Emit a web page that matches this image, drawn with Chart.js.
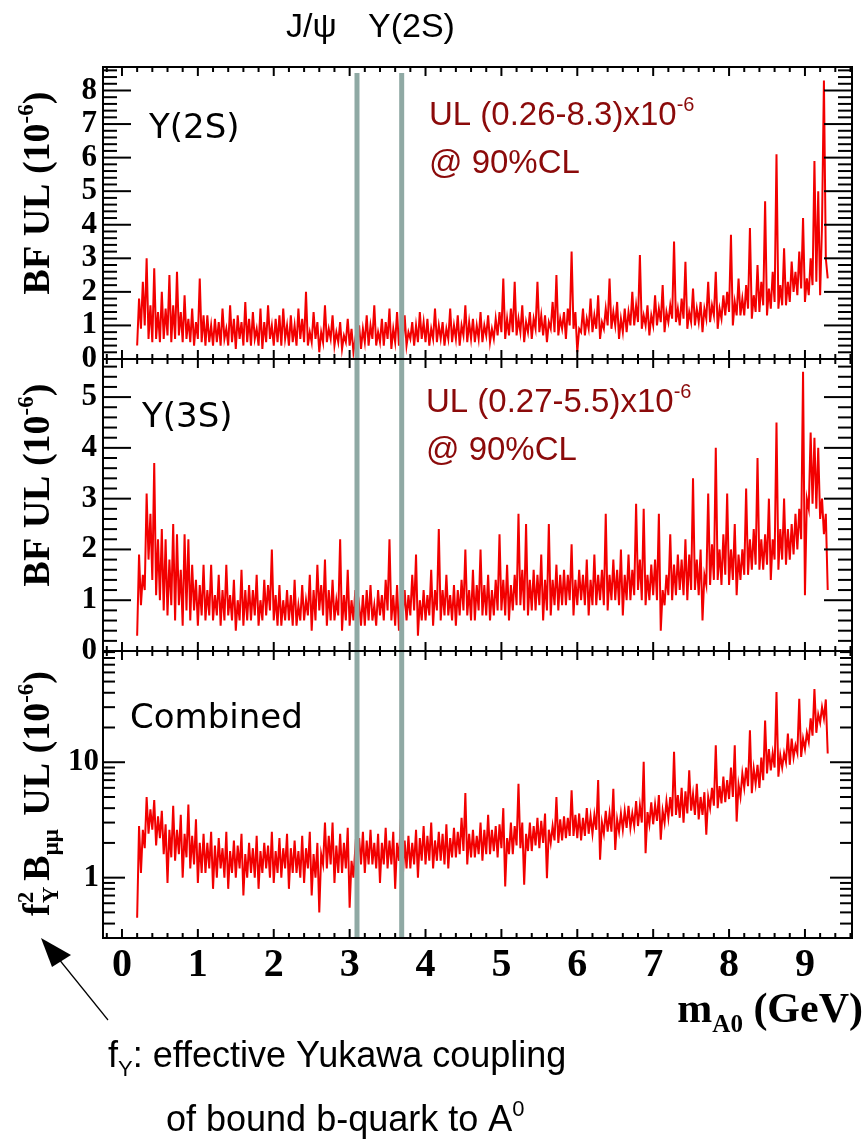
<!DOCTYPE html>
<html>
<head>
<meta charset="utf-8">
<script src="https://cdn.jsdelivr.net/npm/chart.js@4.4.1/dist/chart.umd.min.js"></script>
<style>
  html, body { margin: 0; padding: 0; background: #fff; }
  #wrap { position: relative; width: 866px; height: 1140px; }
</style>
</head>
<body>
<div id="wrap"><canvas id="myChart" width="866" height="1140"></canvas></div>
<script>
// A0 mass scan points (GeV)
const mass = [
  0.200, 0.225, 0.250, 0.275, 0.300, 0.325, 0.350, 0.375, 0.400, 0.425, 0.450, 0.475, 0.500, 0.525, 0.550, 0.575, 0.600, 0.625, 0.650, 0.675,
  0.700, 0.725, 0.750, 0.775, 0.800, 0.825, 0.850, 0.875, 0.900, 0.925, 0.950, 0.975, 1.000, 1.025, 1.050, 1.075, 1.100, 1.125, 1.150, 1.175,
  1.200, 1.225, 1.250, 1.275, 1.300, 1.325, 1.350, 1.375, 1.400, 1.425, 1.450, 1.475, 1.500, 1.525, 1.550, 1.575, 1.600, 1.625, 1.650, 1.675,
  1.700, 1.725, 1.750, 1.775, 1.800, 1.825, 1.850, 1.875, 1.900, 1.925, 1.950, 1.975, 2.000, 2.025, 2.050, 2.075, 2.100, 2.125, 2.150, 2.175,
  2.200, 2.225, 2.250, 2.275, 2.300, 2.325, 2.350, 2.375, 2.400, 2.425, 2.450, 2.475, 2.500, 2.525, 2.550, 2.575, 2.600, 2.625, 2.650, 2.675,
  2.700, 2.725, 2.750, 2.775, 2.800, 2.825, 2.850, 2.875, 2.900, 2.925, 2.950, 2.975, 3.000, 3.025, 3.050, 3.075, 3.100, 3.125, 3.150, 3.175,
  3.200, 3.225, 3.250, 3.275, 3.300, 3.325, 3.350, 3.375, 3.400, 3.425, 3.450, 3.475, 3.500, 3.525, 3.550, 3.575, 3.600, 3.625, 3.650, 3.675,
  3.700, 3.725, 3.750, 3.775, 3.800, 3.825, 3.850, 3.875, 3.900, 3.925, 3.950, 3.975, 4.000, 4.025, 4.050, 4.075, 4.100, 4.125, 4.150, 4.175,
  4.200, 4.225, 4.250, 4.275, 4.300, 4.325, 4.350, 4.375, 4.400, 4.425, 4.450, 4.475, 4.500, 4.525, 4.550, 4.575, 4.600, 4.625, 4.650, 4.675,
  4.700, 4.725, 4.750, 4.775, 4.800, 4.825, 4.850, 4.875, 4.900, 4.925, 4.950, 4.975, 5.000, 5.025, 5.050, 5.075, 5.100, 5.125, 5.150, 5.175,
  5.200, 5.225, 5.250, 5.275, 5.300, 5.325, 5.350, 5.375, 5.400, 5.425, 5.450, 5.475, 5.500, 5.525, 5.550, 5.575, 5.600, 5.625, 5.650, 5.675,
  5.700, 5.725, 5.750, 5.775, 5.800, 5.825, 5.850, 5.875, 5.900, 5.925, 5.950, 5.975, 6.000, 6.025, 6.050, 6.075, 6.100, 6.125, 6.150, 6.175,
  6.200, 6.225, 6.250, 6.275, 6.300, 6.325, 6.350, 6.375, 6.400, 6.425, 6.450, 6.475, 6.500, 6.525, 6.550, 6.575, 6.600, 6.625, 6.650, 6.675,
  6.700, 6.725, 6.750, 6.775, 6.800, 6.825, 6.850, 6.875, 6.900, 6.925, 6.950, 6.975, 7.000, 7.025, 7.050, 7.075, 7.100, 7.125, 7.150, 7.175,
  7.200, 7.225, 7.250, 7.275, 7.300, 7.325, 7.350, 7.375, 7.400, 7.425, 7.450, 7.475, 7.500, 7.525, 7.550, 7.575, 7.600, 7.625, 7.650, 7.675,
  7.700, 7.725, 7.750, 7.775, 7.800, 7.825, 7.850, 7.875, 7.900, 7.925, 7.950, 7.975, 8.000, 8.025, 8.050, 8.075, 8.100, 8.125, 8.150, 8.175,
  8.200, 8.225, 8.250, 8.275, 8.300, 8.325, 8.350, 8.375, 8.400, 8.425, 8.450, 8.475, 8.500, 8.525, 8.550, 8.575, 8.600, 8.625, 8.650, 8.675,
  8.700, 8.725, 8.750, 8.775, 8.800, 8.825, 8.850, 8.875, 8.900, 8.925, 8.950, 8.975, 9.000, 9.025, 9.050, 9.075, 9.100, 9.125, 9.150, 9.175,
  9.200, 9.225, 9.250, 9.275, 9.300
];

// BF upper limits @90% CL, units of 1e-6
const ulY2S = [
  0.4, 1.8, 0.9, 2.3, 1.0, 3.0, 0.6, 1.6, 0.5, 2.7, 0.6, 1.4, 0.5, 2.0, 0.6, 1.5, 0.7, 2.5, 0.5, 1.6,
  0.6, 2.6, 0.7, 1.4, 0.5, 1.9, 0.6, 1.2, 0.5, 1.5, 0.4, 1.1, 0.6, 2.4, 0.5, 1.3, 0.4, 1.3, 0.5, 1.0,
  0.4, 1.2, 0.5, 1.1, 0.4, 1.5, 0.6, 0.9, 0.4, 1.6, 0.5, 1.2, 0.3, 1.3, 0.6, 1.1, 0.4, 1.7, 0.5, 1.2,
  0.4, 1.4, 0.6, 0.9, 0.4, 1.5, 0.3, 1.1, 0.5, 1.6, 0.6, 1.0, 0.4, 1.2, 0.5, 1.3, 0.4, 1.5, 0.6, 1.0,
  0.4, 1.3, 0.5, 1.0, 0.4, 1.5, 0.6, 1.2, 0.5, 2.0, 0.4, 0.8, 0.5, 1.4, 0.6, 1.1, 0.2, 0.8, 0.5, 1.6,
  0.5, 0.9, 0.6, 1.3, 0.4, 0.8, 0.5, 1.1, 0.3, 0.7, 0.5, 1.2, 0.4, 0.9, 0.2, 0.6, 0.4, 1.0, 0.3, 0.9,
  0.5, 1.3, 0.4, 1.0, 0.6, 1.6, 0.4, 0.8, 0.5, 1.2, 0.4, 1.1, 0.6, 1.5, 0.3, 0.9, 0.5, 1.4, 0.4, 1.0,
  0.5, 1.3, 0.4, 0.8, 0.6, 1.1, 0.4, 1.0, 0.5, 1.4, 0.6, 1.1, 0.5, 1.2, 0.4, 0.9, 0.6, 1.5, 0.5, 1.0,
  0.6, 1.1, 0.4, 0.9, 0.6, 1.5, 0.5, 1.0, 0.6, 1.3, 0.4, 1.0, 0.7, 1.6, 0.5, 1.1, 0.6, 1.2, 0.5, 1.0,
  0.6, 1.4, 0.5, 1.0, 0.7, 1.3, 0.5, 0.9, 0.6, 1.2, 0.7, 1.4, 0.8, 2.4, 0.6, 1.2, 0.7, 1.5, 0.8, 2.3,
  0.7, 1.2, 0.8, 1.6, 0.5, 1.1, 0.8, 1.4, 0.6, 1.2, 0.9, 2.3, 0.8, 1.3, 0.7, 1.3, 0.5, 1.1, 0.9, 1.7,
  0.8, 2.5, 0.7, 1.2, 0.9, 1.4, 0.6, 1.5, 1.0, 3.2, 0.9, 1.4, 0.2, 0.9, 0.8, 1.5, 0.7, 1.2, 0.9, 1.8,
  0.8, 1.3, 0.9, 1.9, 0.6, 1.1, 0.9, 1.5, 1.0, 2.4, 0.9, 1.4, 1.0, 1.7, 0.6, 1.2, 0.8, 1.5, 0.8, 1.4,
  1.0, 2.0, 1.0, 1.6, 1.1, 3.1, 0.9, 1.3, 1.0, 1.6, 0.7, 1.3, 1.0, 1.9, 1.0, 1.5, 1.1, 2.2, 0.8, 1.4,
  1.1, 1.6, 1.2, 3.5, 1.1, 1.5, 1.0, 1.8, 1.2, 2.9, 0.9, 1.4, 1.1, 2.1, 1.0, 1.5, 1.1, 1.7, 0.8, 1.5,
  1.2, 2.3, 1.1, 1.6, 1.3, 2.6, 0.9, 1.5, 1.2, 1.9, 1.3, 2.0, 1.4, 3.7, 1.0, 1.7, 1.3, 2.4, 1.3, 1.8,
  1.3, 2.2, 1.5, 3.9, 1.2, 1.9, 1.4, 2.8, 1.4, 2.3, 1.6, 4.7, 1.3, 2.1, 1.5, 2.6, 1.7, 6.1, 1.5, 2.2,
  1.6, 3.3, 1.6, 2.3, 1.7, 2.9, 2.0, 2.6, 1.9, 3.2, 2.1, 4.2, 1.7, 2.4, 1.9, 3.0, 2.2, 5.9, 2.3, 5.0,
  1.9, 4.0, 8.3, 3.0, 2.4
];

const ulY3S = [
  0.3, 1.9, 0.9, 1.5, 1.2, 3.1, 1.8, 2.7, 1.4, 3.7, 1.1, 2.2, 1.0, 2.4, 0.8, 2.2, 0.7, 1.8, 0.9, 2.5,
  0.6, 2.3, 0.9, 1.6, 0.5, 2.3, 0.8, 2.2, 0.6, 1.7, 0.8, 1.4, 0.5, 1.3, 0.7, 1.7, 0.6, 1.2, 0.7, 1.7,
  0.6, 1.1, 0.7, 1.5, 0.5, 1.2, 0.6, 1.7, 0.7, 1.1, 0.6, 1.4, 0.4, 1.0, 0.6, 1.6, 0.5, 1.2, 0.6, 1.3,
  0.6, 1.2, 0.7, 1.5, 0.5, 1.0, 0.6, 1.4, 0.7, 1.3, 0.8, 2.0, 0.6, 1.1, 0.5, 1.3, 0.5, 1.0, 0.6, 1.2,
  0.6, 1.1, 0.5, 1.4, 0.5, 0.9, 0.6, 1.3, 0.6, 1.0, 0.7, 1.5, 0.4, 1.2, 0.6, 1.7, 0.8, 1.3, 0.7, 1.8,
  0.5, 1.2, 0.6, 1.4, 0.6, 1.0, 0.7, 2.2, 0.4, 1.1, 0.6, 1.6, 0.5, 1.0, 0.6, 1.2, 0.6, 0.9, 0.5, 1.1,
  0.5, 1.2, 0.6, 1.3, 0.6, 0.9, 0.5, 1.2, 0.7, 1.1, 0.6, 1.4, 0.8, 2.2, 0.6, 1.1, 0.5, 1.3, 0.4, 1.0,
  0.7, 1.2, 0.6, 1.1, 0.7, 1.5, 0.8, 1.9, 0.3, 1.0, 0.6, 1.2, 0.6, 1.1, 0.7, 1.6, 0.5, 1.2, 0.8, 2.4,
  0.6, 1.2, 0.7, 1.5, 0.7, 1.1, 0.6, 1.3, 0.5, 1.2, 0.7, 1.4, 0.8, 2.0, 0.7, 1.2, 0.6, 1.6, 0.6, 1.3,
  0.8, 2.0, 0.7, 1.3, 0.7, 1.5, 0.6, 1.2, 0.7, 1.4, 0.8, 2.3, 0.8, 1.4, 0.7, 1.7, 0.6, 1.3, 0.8, 1.5,
  0.9, 2.7, 0.9, 1.6, 0.8, 2.5, 0.7, 1.4, 0.8, 1.6, 0.8, 1.5, 0.9, 1.9, 0.6, 1.4, 0.8, 2.5, 0.7, 1.4,
  0.9, 1.7, 0.8, 1.5, 0.9, 1.6, 0.9, 1.5, 1.0, 2.1, 0.7, 1.4, 0.9, 1.6, 1.0, 1.5, 0.9, 1.8, 0.7, 1.4,
  0.9, 1.9, 0.9, 1.5, 1.0, 1.6, 0.9, 2.7, 0.8, 1.5, 1.0, 1.8, 1.0, 1.6, 0.9, 2.0, 0.7, 1.5, 1.0, 1.9,
  1.0, 1.6, 1.1, 2.9, 1.2, 1.8, 1.0, 2.8, 0.9, 1.5, 1.0, 1.7, 1.1, 1.8, 1.0, 2.7, 0.4, 1.2, 0.9, 1.5,
  1.1, 2.3, 1.0, 1.7, 1.1, 1.9, 1.2, 1.8, 1.1, 2.2, 1.0, 1.9, 1.2, 3.4, 1.2, 1.8, 1.1, 2.0, 0.6, 1.5,
  1.3, 3.1, 1.3, 2.1, 1.4, 4.0, 1.4, 2.0, 1.3, 2.3, 1.5, 3.1, 1.3, 2.0, 1.4, 2.5, 1.1, 1.9, 1.4, 2.0,
  1.5, 3.2, 1.5, 2.2, 1.6, 2.4, 1.7, 3.8, 1.6, 2.2, 1.6, 2.3, 1.7, 3.0, 1.4, 2.2, 1.8, 4.5, 1.6, 2.4,
  1.8, 3.0, 1.7, 2.4, 1.8, 2.5, 1.9, 2.7, 2.0, 2.8, 2.2, 5.5, 1.1, 3.0, 2.8, 4.3, 2.9, 4.2, 2.8, 4.0,
  2.6, 3.0, 2.3, 2.7, 1.2
];

// f_Y^2 x B(A0 -> mu mu) upper limit, units of 1e-6
const ulComb = [
  0.45, 2.8, 1.1, 2.6, 1.8, 5.0, 2.4, 3.9, 2.6, 4.7, 1.9, 3.4, 2.2, 3.8, 1.6, 2.9, 0.9, 2.6, 1.5, 4.2,
  1.4, 2.6, 1.6, 3.5, 1.0, 2.4, 1.5, 4.3, 1.2, 2.3, 1.3, 3.2, 0.9, 2.0, 1.1, 2.4, 1.1, 2.0, 1.2, 2.5,
  0.8, 1.9, 1.0, 2.2, 1.2, 1.8, 1.0, 2.5, 0.8, 1.7, 1.1, 2.1, 1.0, 1.9, 1.2, 2.4, 0.7, 1.6, 1.0, 2.0,
  1.1, 1.8, 1.0, 2.3, 0.8, 1.7, 1.1, 2.0, 1.2, 1.9, 1.0, 2.5, 0.9, 1.7, 1.1, 2.2, 1.0, 1.8, 1.2, 2.4,
  0.8, 1.8, 1.1, 2.1, 1.1, 1.7, 1.0, 2.3, 0.9, 1.8, 1.2, 2.5, 0.7, 1.6, 1.0, 2.0, 0.5, 1.6, 1.3, 3.0,
  1.2, 2.3, 1.3, 3.0, 0.9, 1.9, 1.1, 2.4, 1.1, 2.0, 1.2, 2.7, 0.55, 1.4, 1.0, 1.8, 1.4, 2.2, 1.3, 2.5,
  1.1, 2.1, 1.3, 2.6, 1.3, 2.0, 1.2, 2.4, 0.9, 2.0, 1.3, 2.7, 1.2, 2.1, 1.3, 2.5, 0.8, 2.0, 1.4, 3.2,
  1.0, 2.1, 1.2, 2.3, 1.2, 2.0, 1.3, 2.6, 1.0, 2.2, 1.4, 2.8, 1.3, 2.3, 1.4, 3.0, 1.2, 2.1, 1.4, 2.5,
  1.4, 2.4, 1.3, 2.9, 1.2, 2.2, 1.5, 2.7, 1.5, 2.5, 1.6, 3.3, 1.7, 5.4, 1.3, 2.4, 1.5, 2.6, 1.5, 2.3,
  1.6, 3.0, 1.4, 2.6, 1.6, 3.5, 1.6, 2.6, 1.7, 2.8, 1.5, 2.9, 1.8, 4.0, 0.84, 2.2, 1.6, 3.0, 1.6, 2.8,
  1.9, 6.5, 1.8, 3.0, 0.87, 2.4, 1.7, 3.0, 1.7, 2.8, 1.9, 3.3, 1.8, 3.1, 2.0, 3.6, 0.99, 2.6, 2.0, 2.8,
  2.1, 5.0, 2.0, 3.2, 2.1, 3.4, 2.2, 3.3, 2.3, 5.7, 2.3, 3.5, 2.2, 3.6, 2.1, 3.3, 2.3, 4.0, 2.4, 3.4,
  2.4, 3.5, 2.6, 7.0, 1.43, 3.0, 2.4, 3.8, 2.5, 3.6, 2.5, 5.9, 1.74, 3.2, 2.5, 3.6, 2.6, 3.8, 2.7, 4.2,
  2.7, 3.6, 2.8, 4.6, 2.8, 4.2, 3.0, 10.1, 1.63, 3.7, 2.9, 4.5, 2.9, 4.3, 3.1, 5.2, 2.13, 3.8, 3.0, 4.6,
  3.3, 5.0, 3.4, 12.3, 3.5, 5.2, 3.3, 6.0, 3.0, 5.6, 3.6, 8.5, 3.8, 5.3, 3.5, 6.5, 3.2, 5.0, 3.5, 5.5,
  2.35, 5.0, 4.0, 6.0, 4.2, 14.0, 4.0, 6.2, 4.4, 7.5, 4.5, 7.0, 4.8, 9.0, 5.0, 14.0, 3.06, 6.4, 5.0, 8.0,
  6.0, 9.0, 6.2, 18.9, 5.4, 8.8, 6.5, 9.5, 6.0, 11.0, 7.0, 23.0, 8.0, 13.0, 8.5, 12.0, 9.0, 40.6, 7.5, 11.5,
  9.0, 12.0, 10.0, 17.7, 9.5, 16.0, 11.0, 14.0, 12.0, 35.5, 11.1, 16.0, 13.0, 18.0, 15.0, 24.0, 17.0, 43.0, 18.0, 26.0,
  22.0, 30.0, 24.0, 35.0, 11.9
];

// vetoed resonance regions: J/psi and Y(2S)
const vetoMasses = [3.097, 3.686];
const xTickLabels = [0, 1, 2, 3, 4, 5, 6, 7, 8, 9];
const logTickLabels = [1, 10];

const serif = "'Liberation Serif', 'Times New Roman', serif";
const sans = "'Liberation Sans', Arial, sans-serif";

function pts(values) {
  return mass.map((m, i) => ({ x: m, y: values[i] }));
}

// text with simple super/subscripts, drawn on the chart canvas
function richText(ctx, parts, x, y, o) {
  const wt = o.weight || 'normal';
  const big = wt + ' ' + o.size + 'px ' + o.family;
  const sm = wt + ' ' + Math.round(o.size * 0.6) + 'px ' + o.family;
  const width = p => {
    if (p.gap) return p.gap;
    ctx.font = (p.sup || p.sub || p.pair) ? sm : big;
    if (p.pair) return Math.max(ctx.measureText(p.pair[0]).width, ctx.measureText(p.pair[1]).width);
    return ctx.measureText(p.t).width;
  };
  const total = parts.reduce((s, p) => s + width(p), 0);
  ctx.save();
  ctx.translate(x, y);
  if (o.rotate) ctx.rotate(o.rotate);
  ctx.fillStyle = o.color || '#000';
  ctx.textAlign = 'left';
  ctx.textBaseline = 'alphabetic';
  let cx = o.align === 'center' ? -total / 2 : o.align === 'right' ? -total : 0;
  parts.forEach(p => {
    const w = width(p);
    if (p.pair) {
      ctx.fillText(p.pair[0], cx, -o.size * 0.42);
      ctx.fillText(p.pair[1], cx, o.size * 0.24);
    } else if (p.t) {
      ctx.fillText(p.t, cx, p.sup ? -o.size * 0.42 : p.sub ? o.size * 0.24 : 0);
    }
    cx += w;
  });
  ctx.restore();
}

function tickValues(scale) {
  const out = [];
  if (scale.type === 'logarithmic') {
    [0.1, 1, 10].forEach(dec => {
      for (let m = 1; m <= 9; m++) {
        const v = m * dec;
        if (v >= scale.min && v <= scale.max) out.push([v, m === 1]);
      }
    });
  } else {
    for (let k = 0; k * 0.2 <= scale.max + 1e-9; k++) out.push([k * 0.2, k % 5 === 0]);
  }
  return out;
}

const rootFrame = {
  id: 'rootFrame',
  afterDatasetsDraw(chart) {
    const { ctx, chartArea: a, scales } = chart;
    const xs = scales.x;
    const line = (x1, y1, x2, y2) => { ctx.beginPath(); ctx.moveTo(x1, y1); ctx.lineTo(x2, y2); ctx.stroke(); };
    ctx.save();
    ctx.strokeStyle = '#8fa9a4';
    ctx.lineWidth = 5;
    vetoMasses.forEach(m => {
      const px = xs.getPixelForValue(m);
      line(px, a.top + 6, px, a.bottom);
    });
    ctx.strokeStyle = '#000';
    ctx.lineWidth = 2;
    ['y2s', 'y3s', 'comb'].forEach(id => {
      const s = scales[id];
      const isLog = s.type === 'logarithmic';
      ctx.strokeRect(a.left, s.top, a.right - a.left, s.bottom - s.top);
      for (let k = -1; k <= 48; k++) {
        const v = k * 0.2;
        if (v < xs.min || v > xs.max) continue;
        const px = xs.getPixelForValue(v);
        const len = k % 5 === 0 ? 9 : 5;
        line(px, s.top, px, s.top + len);
        line(px, s.bottom, px, s.bottom - len);
      }
      tickValues(s).forEach(([v, major]) => {
        const py = s.getPixelForValue(v);
        const len = major ? (isLog ? 22 : 28) : (isLog ? 12 : 14);
        line(a.left, py, a.left + len, py);
        line(a.right, py, a.right - len, py);
      });
    });
    ctx.restore();
  },
  afterDraw(chart) {
    const ctx = chart.ctx;
    const ys = chart.scales;
    const mid = s => (s.top + s.bottom) / 2;
    const title = { family: serif, weight: 'bold', size: 38, rotate: -Math.PI / 2, align: 'center' };
    richText(ctx, [{ t: 'BF UL (10' }, { t: '-6', sup: true }, { t: ')' }], 49, mid(ys.y2s) - 20, title);
    richText(ctx, [{ t: 'BF UL (10' }, { t: '-6', sup: true }, { t: ')' }], 49, mid(ys.y3s) - 20, title);
    richText(ctx, [{ t: 'f' }, { pair: ['2', 'Υ'] }, { gap: 6 }, { t: 'B' }, { t: 'μμ', sub: true }, { gap: 4 },
      { t: ' UL (10' }, { t: '-6', sup: true }, { t: ')' }], 49, mid(ys.comb) - 1, title);

    const lab = { family: "'DejaVu Sans', sans-serif", size: 34 };
    richText(ctx, [{ t: 'Υ(2S)' }], 149, 138, lab);
    richText(ctx, [{ t: 'Υ(3S)' }], 142, 427, lab);
    richText(ctx, [{ t: 'Combined' }], 130, 728, lab);

    const red = { family: sans, size: 33, color: '#8b0a0a' };
    richText(ctx, [{ t: 'UL (0.26-8.3)x10' }, { t: '-6', sup: true }], 429, 125, red);
    richText(ctx, [{ t: '@ 90%CL' }], 429, 173, red);
    richText(ctx, [{ t: 'UL (0.27-5.5)x10' }, { t: '-6', sup: true }], 426, 412, red);
    richText(ctx, [{ t: '@ 90%CL' }], 426, 460, red);

    const top = { family: sans, size: 34 };
    richText(ctx, [{ t: 'J/ψ' }], 286, 37, top);
    richText(ctx, [{ t: 'Υ(2S)' }], 368, 37, top);

    richText(ctx, [{ t: 'm' }, { t: 'A0', sub: true }, { t: ' (GeV)' }], 863, 1022,
      { family: serif, weight: 'bold', size: 42, align: 'right' });

    const note = { family: sans, size: 36 };
    richText(ctx, [{ t: 'f' }, { t: 'Υ', sub: true }, { t: ': effective Yukawa coupling' }], 108, 1067, note);
    richText(ctx, [{ t: 'of bound b-quark to A' }, { t: '0', sup: true }], 166, 1131, note);

    // arrow pointing at the combined-panel axis title
    ctx.save();
    ctx.strokeStyle = '#000';
    ctx.fillStyle = '#000';
    ctx.lineWidth = 1.2;
    ctx.beginPath(); ctx.moveTo(108, 1020); ctx.lineTo(58, 958); ctx.stroke();
    ctx.beginPath(); ctx.moveTo(41, 938); ctx.lineTo(71, 955); ctx.lineTo(52, 967); ctx.closePath(); ctx.fill();
    ctx.restore();
  }
};

const lineStyle = { borderColor: '#f20000', borderWidth: 2, pointRadius: 0, tension: 0, fill: false };
const yTickFont = { family: serif, weight: 'bold', size: 31 };
const yAxisBase = {
  position: 'left',
  stack: 'panels',
  grid: { display: false, drawTicks: false },
  border: { display: false },
  afterFit(scale) { scale.width = 103; }
};

const contexto = document.getElementById('myChart').getContext('2d');
const myChart = new Chart(contexto, {
  type: 'line',
  data: {
    datasets: [
      Object.assign({ label: 'Υ(2S)', data: pts(ulY2S), yAxisID: 'y2s' }, lineStyle),
      Object.assign({ label: 'Υ(3S)', data: pts(ulY3S), yAxisID: 'y3s' }, lineStyle),
      Object.assign({ label: 'Combined', data: pts(ulComb), yAxisID: 'comb' }, lineStyle)
    ]
  },
  options: {
    responsive: false,
    animation: false,
    layout: { padding: { top: 67, right: 14, left: 0, bottom: 0 } },
    plugins: { legend: { display: false }, tooltip: { enabled: false } },
    scales: {
      x: {
        type: 'linear',
        position: 'bottom',
        min: -0.25,
        max: 9.62,
        grid: { display: false, drawTicks: false },
        border: { display: false },
        ticks: {
          stepSize: 1,
          includeBounds: false,
          autoSkip: false,
          maxRotation: 0,
          padding: 4,
          color: '#000',
          font: { family: serif, weight: 'bold', size: 40 },
          callback: v => xTickLabels.includes(v) ? String(v) : ''
        },
        afterFit(scale) { scale.height = 202; }
      },
      comb: Object.assign({}, yAxisBase, {
        type: 'logarithmic',
        min: 0.3,
        max: 92,
        stackWeight: 287,
        ticks: {
          autoSkip: false,
          padding: 4,
          color: '#000',
          font: yTickFont,
          callback: v => logTickLabels.some(t => Math.abs(v - t) < 1e-9) ? String(v) : ''
        }
      }),
      y3s: Object.assign({}, yAxisBase, {
        type: 'linear',
        min: 0,
        max: 5.75,
        stackWeight: 292,
        ticks: { stepSize: 1, includeBounds: false, autoSkip: false, padding: 6, color: '#000', font: yTickFont }
      }),
      y2s: Object.assign({}, yAxisBase, {
        type: 'linear',
        min: 0,
        max: 8.7,
        stackWeight: 292,
        ticks: { stepSize: 1, includeBounds: false, autoSkip: false, padding: 6, color: '#000', font: yTickFont }
      })
    }
  },
  plugins: [rootFrame]
});
</script>
</body>
</html>
